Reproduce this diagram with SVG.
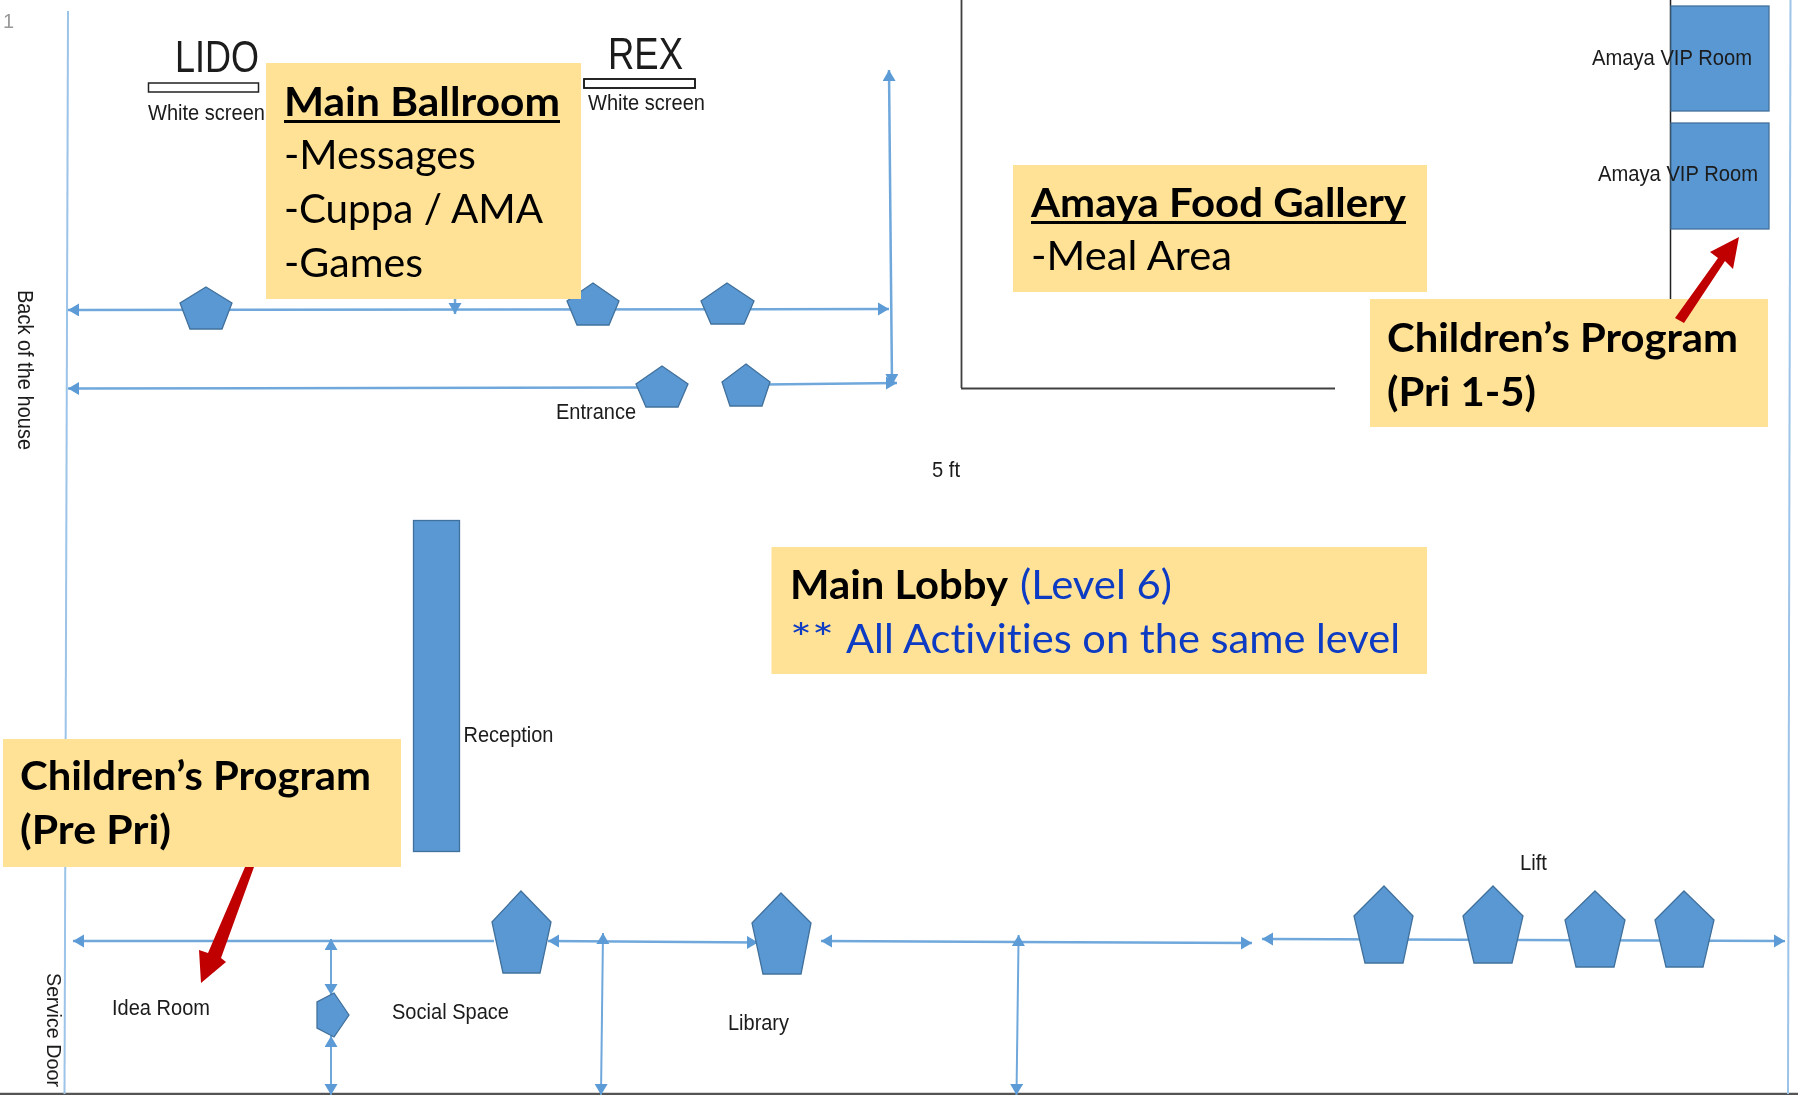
<svg xmlns="http://www.w3.org/2000/svg" width="1798" height="1095" viewBox="0 0 1798 1095">
<style>
.c{fill:none;stroke:#6fa8dc;stroke-width:2.5}
.w{fill:none;stroke:#9cc3e8;stroke-width:2}
.k{fill:none;stroke:#404040;stroke-width:1.8}
.a{marker-start:url(#ah);marker-end:url(#ah)}
.e{marker-end:url(#ah)}
.p{fill:#5a98d4;stroke:#41719c;stroke-width:1.3}
.y{fill:#ffe296}
.r{fill:#c00000}
.s{font-family:"Liberation Sans",Arial,sans-serif;fill:#1a1a1a}
.t{font-size:22px}
.b{font-family:Lato,"Open Sans",sans-serif;font-size:40px;fill:#000;font-variant-ligatures:none}
.h{font-weight:700}
.u{stroke:#000;stroke-width:3;fill:none}
.bl{fill:#0b3bc4}
</style>
<defs>
<marker id="ah" markerUnits="userSpaceOnUse" markerWidth="14" markerHeight="14" refX="11" refY="6.5" orient="auto-start-reverse"><path d="M0 0L11 6.5L0 13Z" fill="#5b9bd5"/></marker>
<filter id="soft" x="0" y="0" width="100%" height="100%"><feGaussianBlur stdDeviation="0.45"/></filter>
</defs>
<rect width="1798" height="1095" fill="#fff"/>
<g filter="url(#soft)">
<g id="walls">
<line class="k" x1="961.5" y1="0" x2="961.5" y2="388"/>
<line class="k" x1="961" y1="388.5" x2="1335" y2="388.5" style="stroke-width:2.2"/>
<line class="k" x1="1670.5" y1="0" x2="1670.5" y2="300" style="stroke:#222;stroke-width:1.5"/>
<line x1="0" y1="1094" x2="1798" y2="1094" style="stroke:#555;stroke-width:2.5"/>
</g>
<g id="connectors">
<line class="w" x1="68" y1="11" x2="64.5" y2="1094"/>
<line class="w" x1="1790.5" y1="0" x2="1788" y2="1094"/>
<line class="c a" x1="68" y1="310" x2="889" y2="309"/>
<line class="c e" x1="455" y1="64" x2="455" y2="314"/>
<line class="c a" x1="889" y1="70" x2="892" y2="385"/>
<line class="c" x1="68" y1="388.5" x2="640" y2="387.5"/>
<line class="c" x1="765" y1="384.5" x2="897" y2="383"/>
<path d="M68 388.5l11-6.500v13Z" fill="#5b9bd5"/>
<path d="M897 383l-11-6.500v13Z" fill="#5b9bd5"/>
<line class="c" x1="73" y1="941" x2="494" y2="941"/>
<path d="M73 941l11-6.500v13Z" fill="#5b9bd5"/>
<line class="c a" x1="548" y1="941" x2="758" y2="942.500"/>
<line class="c a" x1="821" y1="941" x2="1252" y2="943"/>
<line class="c a" x1="1262" y1="939" x2="1785" y2="941"/>
<line class="c a" x1="331" y1="939" x2="331" y2="995" style="stroke-width:2"/>
<line class="c a" x1="331" y1="1036" x2="331" y2="1095" style="stroke-width:2"/>
<line class="c a" x1="603" y1="933" x2="601" y2="1095" style="stroke-width:2"/>
<line class="c a" x1="1018.600" y1="935" x2="1016.500" y2="1095" style="stroke-width:2"/>
</g>
<g id="lido-screen"><rect x="148.500" y="83" width="110" height="9" fill="#fff" stroke="#222" stroke-width="1.500"/><text class="s" x="175" y="72" font-size="44" textLength="84" lengthAdjust="spacingAndGlyphs">LIDO</text><text class="s t" x="148" y="120" textLength="117" lengthAdjust="spacingAndGlyphs">White screen</text></g>
<g id="rex-screen"><rect x="584" y="79" width="111" height="9" fill="#fff" stroke="#111" stroke-width="1.800"/><text class="s" x="608" y="69" font-size="45" textLength="75" lengthAdjust="spacingAndGlyphs">REX</text><text class="s t" x="588" y="110" textLength="117" lengthAdjust="spacingAndGlyphs">White screen</text></g>
<g id="door-1"><polygon class="p" points="206,287 232,303 222,329 190,329 180,303"/></g>
<g id="door-2"><polygon class="p" points="593,283 619,301 609,325 577,325 567,301"/></g>
<g id="door-3"><polygon class="p" points="727,283 754,301 744,324 711,324 701,301"/></g>
<g id="door-4"><polygon class="p" points="662,366 688,384 678,407 646,407 636,384"/></g>
<g id="door-5"><polygon class="p" points="746,364 770,382 762,406 730,406 722,382"/></g>
<g id="door-6"><polygon class="p" points="521,891 551,922 540,973 503,973 492,922"/></g>
<g id="door-7"><polygon class="p" points="781,893 811,923 801,974 763,974 752,923"/></g>
<g id="door-8"><polygon class="p" points="349,1015 334,993 317,1002 317,1028 334,1037"/></g>
<g id="lift-1"><polygon class="p" points="1384,886 1413,916 1403,963 1365,963 1354,916"/></g>
<g id="lift-2"><polygon class="p" points="1493,886 1523,916 1512,963 1474,963 1463,916"/></g>
<g id="lift-3"><polygon class="p" points="1595,891 1625,920 1614,967 1576,967 1565,920"/></g>
<g id="lift-4"><polygon class="p" points="1684,891 1714,920 1703,967 1666,967 1655,920"/></g>
<g id="vip-1"><rect class="p" x="1671" y="6" width="98" height="105"/><text class="s t" x="1592" y="65" textLength="160" lengthAdjust="spacingAndGlyphs">Amaya VIP Room</text></g>
<g id="vip-2"><rect class="p" x="1671" y="123" width="98" height="106"/><text class="s t" x="1598" y="181" textLength="160" lengthAdjust="spacingAndGlyphs">Amaya VIP Room</text></g>
<g id="reception"><rect class="p" x="413.500" y="520.500" width="46" height="331"/><text class="s t" x="463.500" y="741.500" textLength="90" lengthAdjust="spacingAndGlyphs">Reception</text></g>
<g id="labels">
<text class="s" x="3" y="28" font-size="20" style="fill:#999">1</text>
<text class="s t" x="556" y="419" textLength="80" lengthAdjust="spacingAndGlyphs">Entrance</text>
<text class="s t" x="932" y="477" textLength="28" lengthAdjust="spacingAndGlyphs">5 ft</text>
<text class="s t" x="112" y="1014.500" textLength="98" lengthAdjust="spacingAndGlyphs">Idea Room</text>
<text class="s t" x="392" y="1019" textLength="117" lengthAdjust="spacingAndGlyphs">Social Space</text>
<text class="s t" x="728" y="1030" textLength="61" lengthAdjust="spacingAndGlyphs">Library</text>
<text class="s t" x="1520" y="870" textLength="27" lengthAdjust="spacingAndGlyphs">Lift</text>
<text class="s" transform="rotate(90 18 290)" x="18" y="290" font-size="22" textLength="160" lengthAdjust="spacingAndGlyphs">Back of the house</text>
<text class="s" transform="rotate(90 47 973)" x="47" y="973" font-size="20" textLength="114" lengthAdjust="spacingAndGlyphs">Service Door</text>
</g>
<g id="main-ballroom"><rect class="y" x="266" y="63" width="315" height="236"/>
<text class="b h" x="284" y="116" textLength="276" lengthAdjust="spacingAndGlyphs">Main Ballroom</text><line class="u" x1="284" y1="121.500" x2="560" y2="121.500"/>
<text class="b" x="284" y="169" textLength="192" lengthAdjust="spacingAndGlyphs">-Messages</text>
<text class="b" x="284" y="223" textLength="259" lengthAdjust="spacingAndGlyphs">-Cuppa / AMA</text>
<text class="b" x="284" y="277" textLength="139" lengthAdjust="spacingAndGlyphs">-Games</text></g>
<g id="food-gallery"><rect class="y" x="1013" y="165" width="414" height="127"/>
<text class="b h" x="1031" y="217" textLength="375" lengthAdjust="spacingAndGlyphs">Amaya Food Gallery</text><line class="u" x1="1031" y1="222.500" x2="1406" y2="222.500"/>
<text class="b" x="1031" y="270" textLength="201" lengthAdjust="spacingAndGlyphs">-Meal Area</text></g>
<g id="childrens-pri"><rect class="y" x="1370" y="299" width="398" height="128"/>
<text class="b h" x="1387" y="352" textLength="351" lengthAdjust="spacingAndGlyphs">Children’s Program</text>
<text class="b h" x="1387" y="406" textLength="149" lengthAdjust="spacingAndGlyphs">(Pri 1-5)</text></g>
<g id="main-lobby"><rect class="y" x="771.500" y="547" width="655.500" height="127"/>
<text class="b h" x="790" y="599" textLength="218" lengthAdjust="spacingAndGlyphs">Main Lobby</text>
<text class="b bl" x="1020" y="599" textLength="152" lengthAdjust="spacingAndGlyphs">(Level 6)</text>
<text class="b bl" y="653"><tspan x="790" textLength="44" lengthAdjust="spacingAndGlyphs">**</tspan> <tspan x="846" textLength="554" lengthAdjust="spacingAndGlyphs">All Activities on the same level</tspan></text></g>
<g id="childrens-prepri"><rect class="y" x="3" y="739" width="398" height="128"/>
<text class="b h" x="20" y="790" textLength="351" lengthAdjust="spacingAndGlyphs">Children’s Program</text>
<text class="b h" x="20" y="844" textLength="151" lengthAdjust="spacingAndGlyphs">(Pre Pri)</text></g>
<g id="pointers">
<polygon class="r" points="1739,237 1710,252 1718,258 1675,318 1684,323 1725,261 1733,269"/>
<polygon class="r" points="201,983 199,950 208,953 245,867 254,867 221,958 226,962"/>
</g>
</g>
</svg>
